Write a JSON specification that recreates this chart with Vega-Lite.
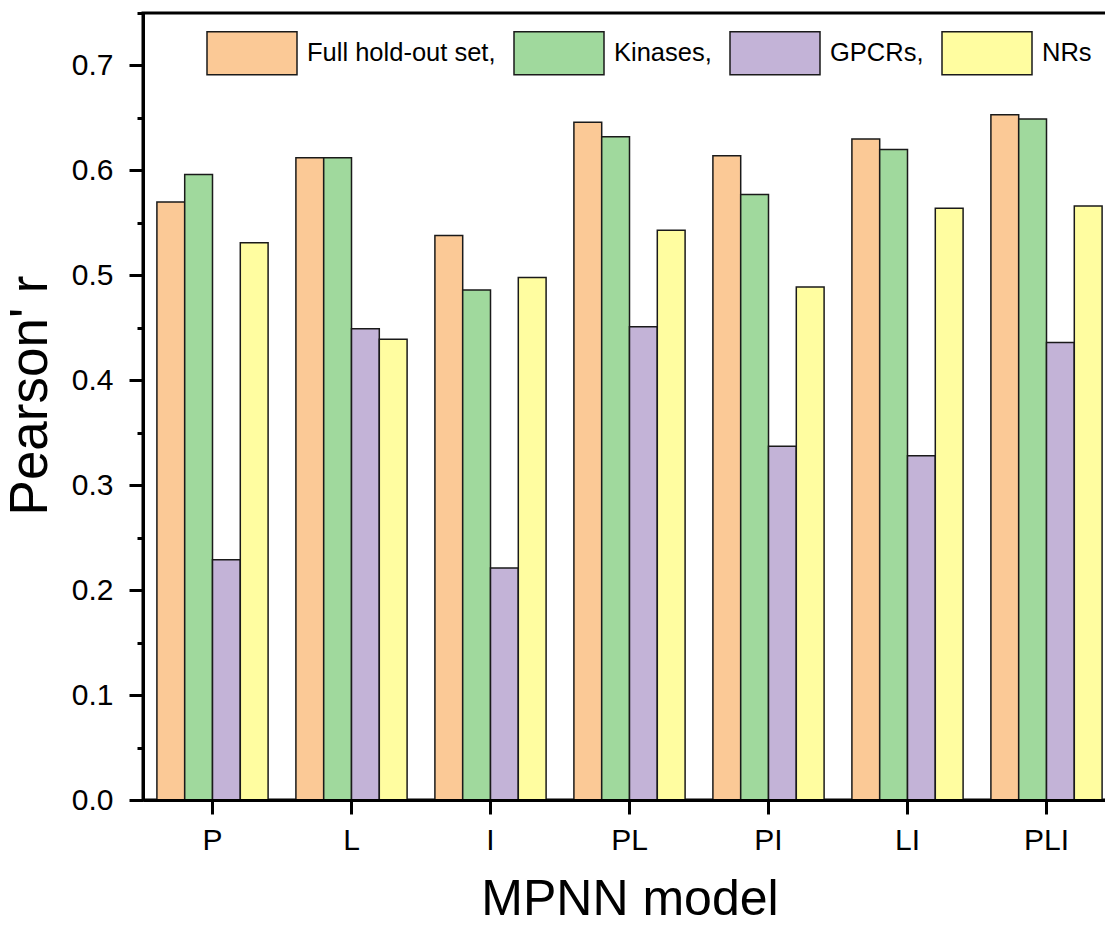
{
  "$schema": "https://vega.github.io/schema/vega-lite/v6.json",
  "autosize": {"type": "none"},
  "padding": {"left": 143, "top": 13, "right": -11, "bottom": 126},
  "width": 973,
  "height": 787,
  "background": "white",
  "config": {
    "font": "Liberation Sans",
    "view": {"stroke": "black", "strokeWidth": 3},
    "axis": {"ticks": true}
  },
  "data": {
    "values": [
      {"model": "P", "series": "Full hold-out set", "r": 0.570},
      {"model": "P", "series": "Kinases", "r": 0.596},
      {"model": "P", "series": "GPCRs", "r": 0.229},
      {"model": "P", "series": "NRs", "r": 0.531},
      {"model": "L", "series": "Full hold-out set", "r": 0.612},
      {"model": "L", "series": "Kinases", "r": 0.612},
      {"model": "L", "series": "GPCRs", "r": 0.449},
      {"model": "L", "series": "NRs", "r": 0.439},
      {"model": "I", "series": "Full hold-out set", "r": 0.538},
      {"model": "I", "series": "Kinases", "r": 0.486},
      {"model": "I", "series": "GPCRs", "r": 0.221},
      {"model": "I", "series": "NRs", "r": 0.498},
      {"model": "PL", "series": "Full hold-out set", "r": 0.646},
      {"model": "PL", "series": "Kinases", "r": 0.632},
      {"model": "PL", "series": "GPCRs", "r": 0.451},
      {"model": "PL", "series": "NRs", "r": 0.543},
      {"model": "PI", "series": "Full hold-out set", "r": 0.614},
      {"model": "PI", "series": "Kinases", "r": 0.577},
      {"model": "PI", "series": "GPCRs", "r": 0.337},
      {"model": "PI", "series": "NRs", "r": 0.489},
      {"model": "LI", "series": "Full hold-out set", "r": 0.630},
      {"model": "LI", "series": "Kinases", "r": 0.620},
      {"model": "LI", "series": "GPCRs", "r": 0.328},
      {"model": "LI", "series": "NRs", "r": 0.564},
      {"model": "PLI", "series": "Full hold-out set", "r": 0.653},
      {"model": "PLI", "series": "Kinases", "r": 0.649},
      {"model": "PLI", "series": "GPCRs", "r": 0.436},
      {"model": "PLI", "series": "NRs", "r": 0.566}
    ]
  },
  "resolve": {"axis": {"y": "independent"}},
  "layer": [
    {
      "mark": {"type": "bar", "stroke": "#1a1a1a", "strokeWidth": 1.5},
      "encoding": {
        "x": {
          "field": "model",
          "type": "nominal",
          "sort": ["P", "L", "I", "PL", "PI", "LI", "PLI"],
          "scale": {"paddingInner": 0.2, "paddingOuter": 0.1},
          "axis": {
            "title": "MPNN model",
            "titleFontSize": 50,
            "titleFontWeight": "normal",
            "titleColor": "black",
            "titlePadding": 19,
            "ticks": true,
            "tickSize": 14,
            "tickWidth": 3,
            "tickColor": "black",
            "tickOpacity": 1,
            "tickBand": "center",
            "bandPosition": 0.5,
            "zindex": 1,
            "labelAngle": 0,
            "labelFontSize": 30,
            "labelColor": "black",
            "labelBaseline": "top",
            "labelPadding": 11,
            "domainColor": "black",
            "domainWidth": 3
          }
        },
        "xOffset": {
          "field": "series",
          "type": "nominal",
          "sort": ["Full hold-out set", "Kinases", "GPCRs", "NRs"],
          "scale": {"paddingInner": 0, "paddingOuter": 0}
        },
        "y": {
          "field": "r",
          "type": "quantitative",
          "scale": {"domain": [0, 0.75], "nice": false, "zero": true},
          "axis": {
            "title": "Pearson' r",
            "titleFontSize": 53,
            "titleFontWeight": "normal",
            "titleColor": "black",
            "titlePadding": 14,
            "titleY": 382,
            "values": [0, 0.1, 0.2, 0.3, 0.4, 0.5, 0.6, 0.7],
            "format": ".1f",
            "labelFontSize": 30,
            "labelColor": "black",
            "labelPadding": 16,
            "tickSize": 14,
            "tickWidth": 3,
            "tickColor": "black",
            "domainColor": "black",
            "domainWidth": 3,
            "grid": false
          }
        },
        "fill": {
          "field": "series",
          "type": "nominal",
          "sort": ["Full hold-out set", "Kinases", "GPCRs", "NRs"],
          "scale": {
            "domain": ["Full hold-out set", "Kinases", "GPCRs", "NRs"],
            "range": ["#FBC996", "#A0D99D", "#C3B3D7", "#FFFDA0"]
          },
          "legend": {
            "title": null,
            "orient": "none",
            "legendX": 63,
            "legendY": -6,
            "direction": "horizontal",
            "columns": 4,
            "columnPadding": 15,
            "padding": 0,
            "symbolType": "M-1,-0.478H1V0.478H-1Z",
            "symbolSize": 8100,
            "symbolStrokeColor": "#1a1a1a",
            "symbolStrokeWidth": 1.5,
            "symbolOpacity": 1,
            "labelFontSize": 25.5,
            "labelColor": "black",
            "labelOffset": 9,
            "labelLimit": 400,
            "labelExpr": "datum.label == 'NRs' ? datum.label : datum.label + ','"
          }
        }
      }
    },
    {
      "mark": {"type": "bar", "opacity": 0},
      "encoding": {
        "y": {
          "field": "r",
          "type": "quantitative",
          "scale": {"domain": [0, 0.75], "nice": false, "zero": true},
          "axis": {
            "orient": "left",
            "title": null,
            "values": [0.05, 0.15, 0.25, 0.35, 0.45, 0.55, 0.65, 0.75],
            "labels": false,
            "domain": false,
            "grid": false,
            "tickSize": 6,
            "tickWidth": 3,
            "tickColor": "black"
          }
        }
      }
    }
  ]
}
